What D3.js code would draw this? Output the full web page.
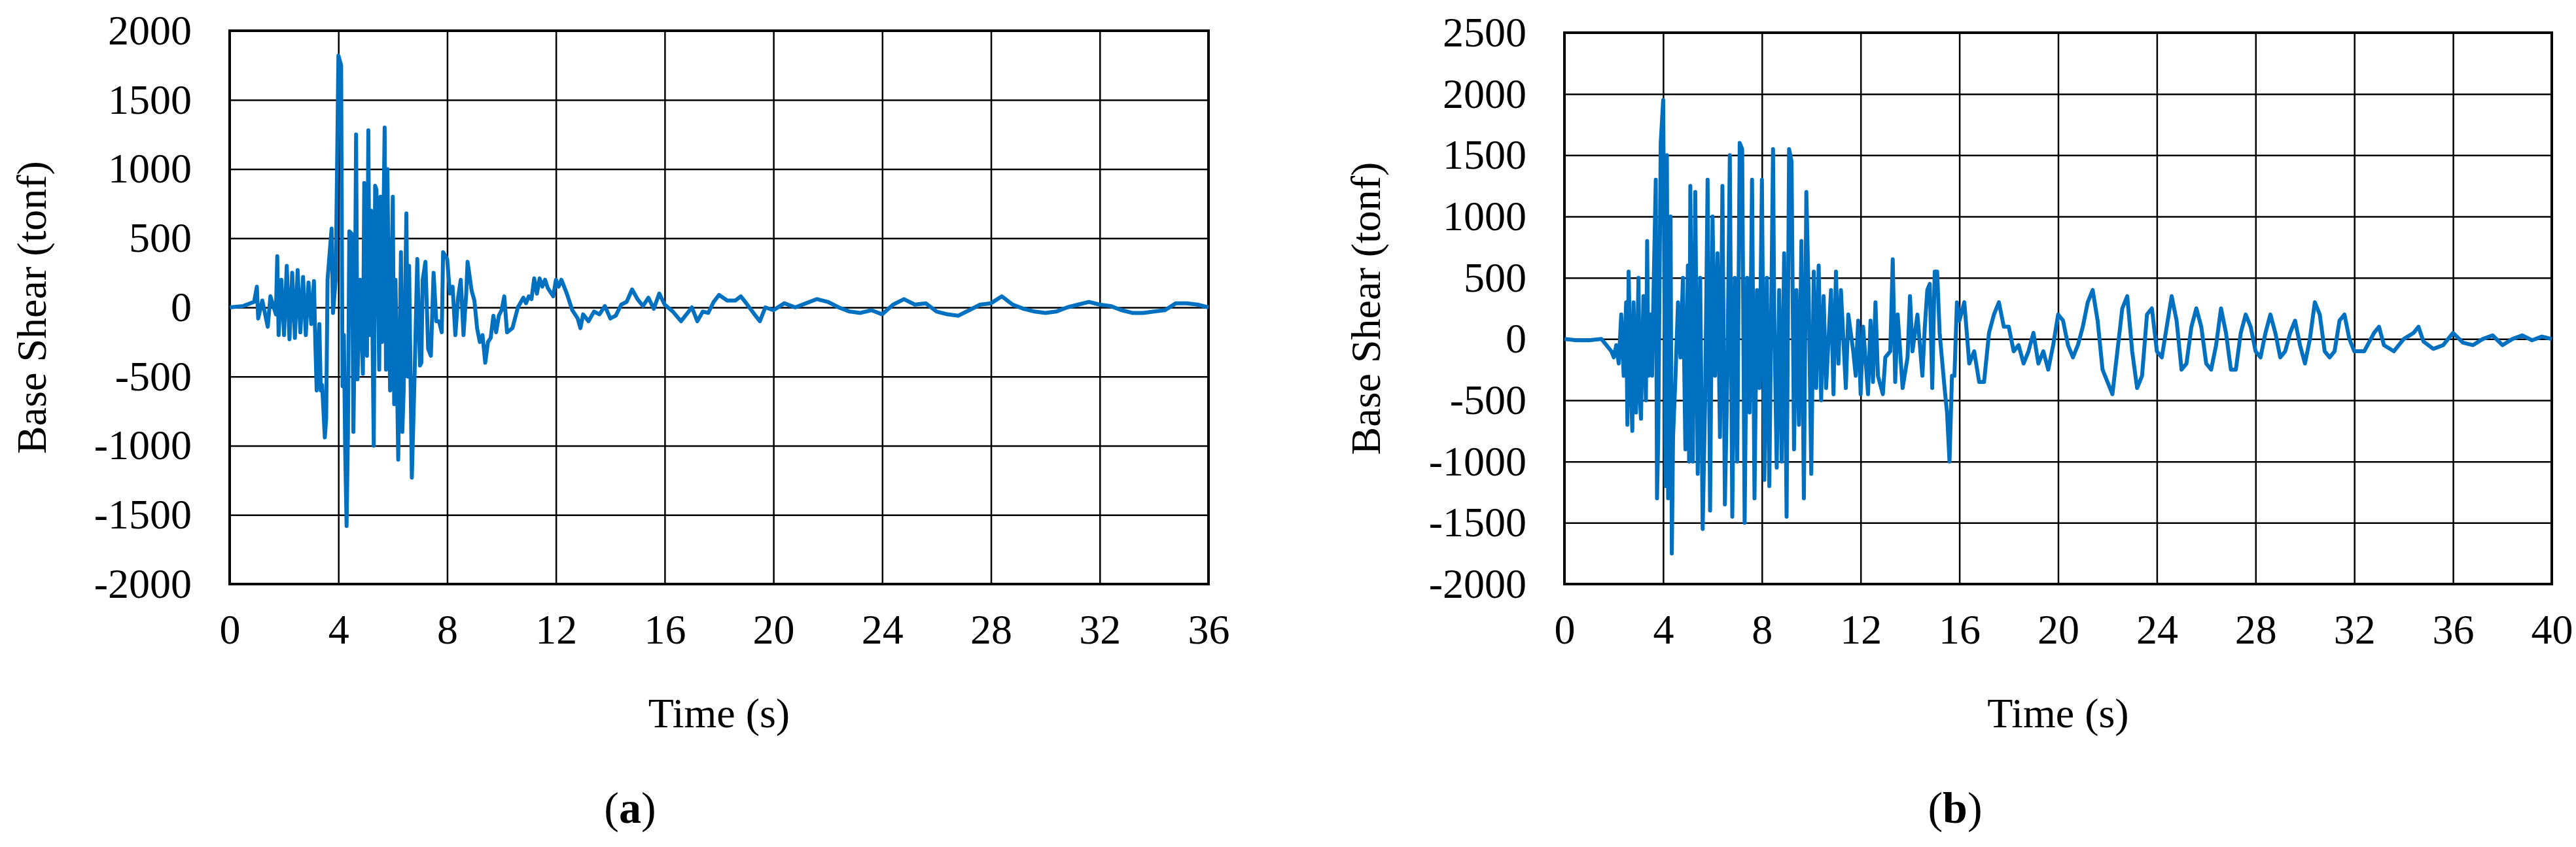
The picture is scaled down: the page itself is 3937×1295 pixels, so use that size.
<!DOCTYPE html>
<html><head><meta charset="utf-8">
<script src="https://cdn.jsdelivr.net/npm/d3@7"></script>
<style>body{margin:0;background:#fff}text{font-family:"Liberation Serif","Times New Roman",serif;fill:#000}</style>
</head><body><svg id="c" width="3937" height="1295"></svg>
<script>
const seriesA = [[0,0],[0.5,10],[0.9,40],[1.0,150],[1.05,-80],[1.2,50],[1.4,-140],[1.5,80],[1.7,-50],[1.75,370],[1.8,-200],[1.9,200],[2.0,-200],[2.1,300],[2.2,-230],[2.3,250],[2.4,-220],[2.5,270],[2.6,-180],[2.7,220],[2.8,-200],[2.9,180],[3.0,-120],[3.1,190],[3.15,-250],[3.2,-600],[3.3,-120],[3.35,-600],[3.4,-560],[3.5,-940],[3.55,-800],[3.6,200],[3.7,450],[3.75,570],[3.8,-40],[3.9,200],[4.0,1820],[4.1,1750],[4.15,-570],[4.2,-200],[4.25,-1050],[4.3,-1580],[4.35,-900],[4.4,550],[4.5,530],[4.55,-900],[4.6,-200],[4.65,1250],[4.7,-520],[4.8,200],[4.9,-480],[4.95,900],[5.0,850],[5.05,-350],[5.1,1280],[5.15,-200],[5.2,700],[5.3,-1000],[5.35,880],[5.4,850],[5.5,-450],[5.55,800],[5.6,-250],[5.7,1300],[5.75,-450],[5.8,1000],[5.9,-600],[6.0,800],[6.05,-700],[6.1,200],[6.2,-1100],[6.3,400],[6.35,-900],[6.4,-600],[6.5,680],[6.55,-500],[6.6,300],[6.7,-1230],[6.8,-500],[6.9,350],[7.0,-420],[7.05,-400],[7.1,200],[7.2,330],[7.3,-300],[7.4,-350],[7.5,250],[7.6,-100],[7.7,-100],[7.8,-180],[7.85,400],[8.0,350],[8.1,100],[8.2,150],[8.3,-200],[8.4,70],[8.5,200],[8.6,-200],[8.7,100],[8.75,330],[8.9,120],[9.0,50],[9.1,-150],[9.2,-250],[9.3,-200],[9.4,-400],[9.5,-250],[9.6,-220],[9.7,-60],[9.8,-180],[9.9,-60],[10.0,-20],[10.1,80],[10.2,-180],[10.4,-150],[10.6,0],[10.8,70],[10.9,30],[11.0,80],[11.1,60],[11.2,210],[11.3,100],[11.4,210],[11.5,150],[11.6,200],[11.7,140],[11.9,80],[12.0,200],[12.1,150],[12.2,200],[12.4,100],[12.6,-20],[12.8,-80],[12.9,-150],[13.0,-50],[13.2,-100],[13.4,-30],[13.6,-50],[13.8,10],[14.0,-80],[14.2,-60],[14.4,20],[14.6,40],[14.8,130],[15.0,60],[15.2,10],[15.4,70],[15.6,-10],[15.8,100],[16.0,20],[16.3,-30],[16.6,-100],[16.8,-50],[17.0,0],[17.2,-100],[17.4,-30],[17.6,-40],[17.8,40],[18.0,90],[18.3,50],[18.6,50],[18.8,80],[19.0,30],[19.3,-50],[19.5,-100],[19.7,0],[20.0,-20],[20.4,30],[20.8,0],[21.2,30],[21.6,60],[22.0,40],[22.4,0],[22.8,-30],[23.2,-40],[23.6,-20],[24.0,-50],[24.4,20],[24.8,60],[25.2,20],[25.6,30],[26.0,-30],[26.4,-50],[26.8,-60],[27.2,-20],[27.6,20],[28.0,30],[28.4,80],[28.8,20],[29.2,-10],[29.6,-30],[30.0,-40],[30.4,-30],[30.8,0],[31.2,20],[31.6,40],[32.0,20],[32.4,10],[32.8,-20],[33.2,-40],[33.6,-40],[34.0,-30],[34.4,-20],[34.8,30],[35.2,30],[35.6,20],[36,0]];
const seriesB = [[0,0],[0.5,-10],[1.0,-10],[1.5,0],[1.7,-50],[1.9,-100],[2.0,-150],[2.1,-50],[2.2,-200],[2.3,200],[2.4,-300],[2.5,300],[2.55,-700],[2.6,550],[2.7,-450],[2.75,-750],[2.8,300],[2.9,-600],[3.0,500],[3.05,-450],[3.1,-650],[3.2,350],[3.3,-500],[3.35,800],[3.4,-300],[3.5,200],[3.55,-300],[3.6,300],[3.7,1300],[3.75,-1300],[3.8,-800],[3.9,1600],[4.0,1950],[4.1,-1200],[4.15,1500],[4.2,-1300],[4.3,1000],[4.35,-1750],[4.4,-800],[4.5,-300],[4.6,300],[4.7,-150],[4.8,500],[4.9,-900],[5.0,600],[5.05,-1000],[5.1,1250],[5.2,-1000],[5.3,1200],[5.4,-1100],[5.5,500],[5.6,-1550],[5.7,-500],[5.8,1300],[5.9,-1400],[6.0,1000],[6.1,-300],[6.2,700],[6.3,-800],[6.4,1250],[6.5,-1350],[6.6,-300],[6.7,1500],[6.8,-1450],[6.9,500],[7.0,-1000],[7.1,1600],[7.2,1550],[7.3,-1500],[7.4,500],[7.5,-600],[7.6,1300],[7.7,-1300],[7.8,400],[7.9,-400],[8.0,1300],[8.1,-1150],[8.2,500],[8.3,-1200],[8.45,1550],[8.5,200],[8.6,-1050],[8.7,400],[8.8,-1000],[8.9,700],[9.0,-1450],[9.1,1550],[9.2,1450],[9.3,-900],[9.4,400],[9.5,-700],[9.6,800],[9.7,-1300],[9.8,1200],[9.9,300],[10.0,-1100],[10.1,550],[10.2,-400],[10.3,600],[10.4,-500],[10.5,350],[10.6,-400],[10.8,400],[10.9,-450],[11.0,550],[11.1,-200],[11.2,400],[11.4,-400],[11.5,200],[11.7,-100],[11.8,-300],[11.9,150],[12.0,-450],[12.1,100],[12.3,-450],[12.4,150],[12.5,-350],[12.6,300],[12.7,-300],[12.9,-450],[13.0,-150],[13.2,-100],[13.3,650],[13.4,-350],[13.5,200],[13.7,-400],[13.9,-150],[14.0,350],[14.1,-100],[14.3,200],[14.5,-300],[14.6,100],[14.7,400],[14.8,450],[14.9,-400],[15.0,550],[15.1,550],[15.2,50],[15.4,-400],[15.5,-600],[15.6,-1000],[15.7,-300],[15.8,-300],[15.9,300],[16.0,150],[16.2,300],[16.4,-200],[16.6,-100],[16.8,-350],[17.0,-350],[17.2,50],[17.4,200],[17.6,300],[17.8,100],[18.0,100],[18.2,-100],[18.4,-50],[18.6,-200],[18.8,-100],[19.0,50],[19.2,-200],[19.4,-100],[19.6,-250],[19.8,-50],[20.0,200],[20.2,150],[20.4,-50],[20.6,-150],[20.8,-50],[21.0,100],[21.2,300],[21.4,400],[21.6,150],[21.8,-250],[22.0,-350],[22.2,-450],[22.4,-100],[22.6,250],[22.8,350],[23.0,-100],[23.2,-400],[23.4,-300],[23.6,200],[23.8,250],[24.0,-100],[24.2,-150],[24.4,100],[24.6,350],[24.8,150],[25.0,-250],[25.2,-200],[25.4,100],[25.6,250],[25.8,100],[26.0,-200],[26.2,-250],[26.4,-50],[26.6,250],[26.8,50],[27.0,-250],[27.2,-250],[27.4,50],[27.6,200],[27.8,100],[28.0,-100],[28.2,-150],[28.4,50],[28.6,200],[28.8,50],[29.0,-150],[29.2,-100],[29.4,50],[29.6,150],[29.8,-50],[30.0,-200],[30.2,0],[30.4,300],[30.6,200],[30.8,-100],[31.0,-150],[31.2,-100],[31.4,150],[31.6,200],[31.8,0],[32.0,-100],[32.4,-100],[32.8,50],[33.0,100],[33.2,-50],[33.6,-100],[34.0,0],[34.4,50],[34.6,100],[34.8,-20],[35.2,-80],[35.6,-50],[36.0,50],[36.4,-30],[36.8,-50],[37.2,0],[37.6,30],[38.0,-50],[38.4,0],[38.8,30],[39.2,-10],[39.6,20],[40,0]];
const xTicksA = [0,4,8,12,16,20,24,28,32,36];
const yTicksA = [-2000,-1500,-1000,-500,0,500,1000,1500,2000];
const xTicksB = [0,4,8,12,16,20,24,28,32,36,40];
const yTicksB = [-2000,-1500,-1000,-500,0,500,1000,1500,2000,2500];
const yTitle = "Base Shear (tonf)", xTitle = "Time (s)";

const svg = d3.select("#c");
function panel(data, xt, yt, box, letter, letterX, yTitleX){
  const x = d3.scaleLinear().domain([xt[0], xt[xt.length-1]]).range([box.l, box.r]);
  const y = d3.scaleLinear().domain([yt[0], yt[yt.length-1]]).range([box.b, box.t]);
  const g = svg.append("g");
  g.append("g").attr("transform",`translate(0,${box.b})`)
    .call(d3.axisBottom(x).tickValues(xt).tickSize(-(box.b-box.t)).tickPadding(46).tickFormat(d=>String(d)))
    .call(a=>{a.select(".domain").remove();a.selectAll("line").attr("stroke","#000").attr("stroke-width",2.5);a.selectAll("text").attr("font-size",64).attr("font-family","Liberation Serif");});
  g.append("g").attr("transform",`translate(${box.l},0)`)
    .call(d3.axisLeft(y).tickValues(yt).tickSize(-(box.r-box.l)).tickPadding(58).tickFormat(d=>String(d)))
    .call(a=>{a.select(".domain").remove();a.selectAll("line").attr("stroke","#000").attr("stroke-width",2.5);a.selectAll("text").attr("font-size",64).attr("font-family","Liberation Serif");});
  g.append("rect").attr("x",box.l).attr("y",box.t).attr("width",box.r-box.l).attr("height",box.b-box.t).attr("fill","none").attr("stroke","#000").attr("stroke-width",4);
  g.append("path").datum(data).attr("fill","none").attr("stroke","#0070C0").attr("stroke-width",6).attr("stroke-linejoin","round")
    .attr("d", d3.line().x(d=>x(d[0])).y(d=>y(d[1])));
  g.append("text").attr("x",(box.l+box.r)/2).attr("y",1112).attr("text-anchor","middle").attr("font-size",64).text(xTitle);
  g.append("text").attr("transform",`translate(${yTitleX},${(box.t+box.b)/2}) rotate(-90)`).attr("text-anchor","middle").attr("dy","0.35em").attr("font-size",64).text(yTitle);
  const lt = g.append("text").attr("x",letterX).attr("y",1258).attr("text-anchor","middle").attr("font-size",68);
  lt.append("tspan").text("(");lt.append("tspan").attr("font-weight","bold").text(letter);lt.append("tspan").text(")");
}
panel(seriesA, xTicksA, yTicksA, {l:351,r:1847,t:47,b:893}, "a", 963, 48);
panel(seriesB, xTicksB, yTicksB, {l:2391,r:3900,t:50,b:893}, "b", 2988, 2087);
</script></body></html>
